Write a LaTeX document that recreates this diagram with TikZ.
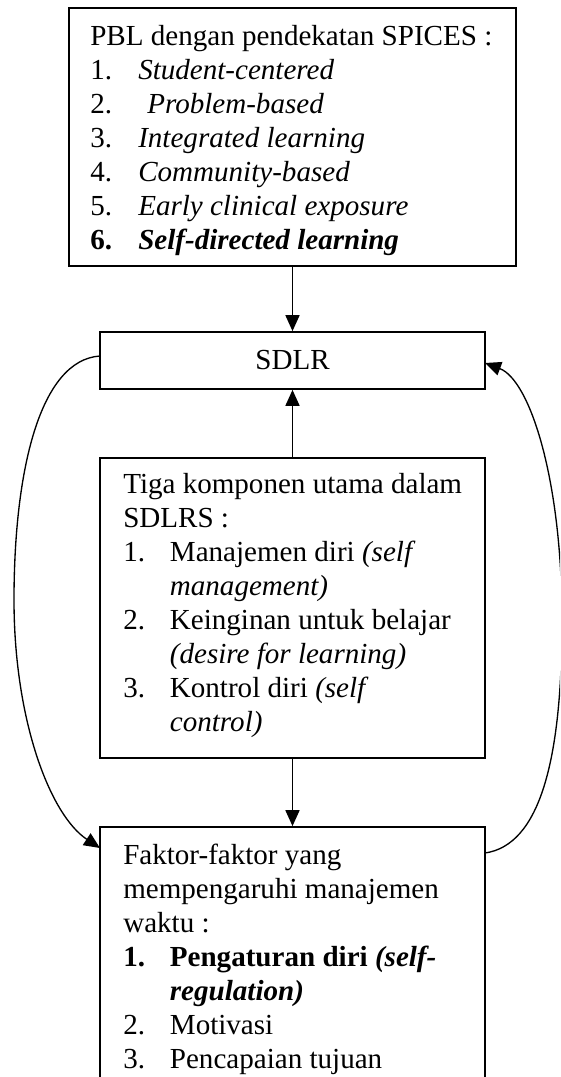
\documentclass[tikz,border=0pt]{standalone}
\usepackage{fontspec}
\setmainfont{Liberation Serif}
\usetikzlibrary{arrows.meta}
\begin{document}
\begin{tikzpicture}[x=0.75pt,y=-0.75pt,
  box/.style={draw,line width=1.3pt,inner sep=0pt,rectangle},
  conn/.style={line width=1.3pt,-{Triangle[length=12pt,width=10.5pt]}},
  curve/.style={line width=1.0pt,-{Triangle[length=12pt,width=10.5pt]}},
  txt/.style={anchor=base west,inner sep=0pt,font=\fontsize{21.8}{25.5}\selectfont}]
\clip (0,0) rectangle (560,1077);
\node[box,minimum width=335.25pt,minimum height=193.5pt] (b1) at (292.5,137) {};
\node[box,minimum width=288.75pt,minimum height=42.75pt,font=\fontsize{21.8}{25.5}\selectfont] (sd) at (292.5,360.5) {SDLR};
\node[box,minimum width=288.75pt,minimum height=225pt] (b2) at (292.5,608) {};
\node[box,minimum width=288.75pt,minimum height=212.25pt] (b3) at (292.5,968.5) {};
\coordinate (b3l) at (100,848);
\coordinate (b3r) at (485,853);
\coordinate (sdl) at (100,356);
\coordinate (sdr) at (485,363);
\node[txt] (t1) at (90,45.7) {\begin{tabular}[t]{@{}p{36pt}@{}l@{}}
\multicolumn{2}{@{}l@{}}{PBL dengan pendekatan SPICES :}\\
1. & \textit{Student-centered}\\
2. & \hspace{6.75pt}\textit{Problem-based}\\
3. & \textit{Integrated learning}\\
4. & \textit{Community-based}\\
5. & \textit{Early clinical exposure}\\
\textbf{6.} & \textbf{\textit{Self-directed learning}}
\end{tabular}};
\node[txt] (t2) at (123,493) {\begin{tabular}[t]{@{}p{35pt}@{}l@{}}
\multicolumn{2}{@{}l@{}}{Tiga komponen utama dalam}\\
\multicolumn{2}{@{}l@{}}{SDLRS :}\\
1. & Manajemen diri \textit{(self}\\
 & \textit{management)}\\
2. & Keinginan untuk belajar\\
 & \textit{(desire for learning)}\\
3. & Kontrol diri \textit{(self}\\
 & \textit{control)}
\end{tabular}};
\node[txt] (t3) at (123,864) {\begin{tabular}[t]{@{}p{35pt}@{}l@{}}
\multicolumn{2}{@{}l@{}}{Faktor-faktor yang}\\
\multicolumn{2}{@{}l@{}}{mempengaruhi manajemen}\\
\multicolumn{2}{@{}l@{}}{waktu :}\\
\textbf{1.} & \textbf{Pengaturan diri \textit{(self-}}\\
 & \textbf{\textit{regulation)}}\\
2. & Motivasi\\
3. & Pencapaian tujuan
\end{tabular}};
\draw[conn] (b1.south) -- (sd.north);
\draw[conn] (b2.north) -- (sd.south);
\draw[conn] (b2.south) -- (b3.north);
\draw[curve] (sdl) .. controls (40,360) and (14,470) .. (14,600) .. controls (14,720) and (50,815) .. (b3l);
\draw[curve] (b3r) .. controls (540,845) and (562,760) .. (562,620) .. controls (562,480) and (530,380) .. (sdr);
\end{tikzpicture}
\end{document}
